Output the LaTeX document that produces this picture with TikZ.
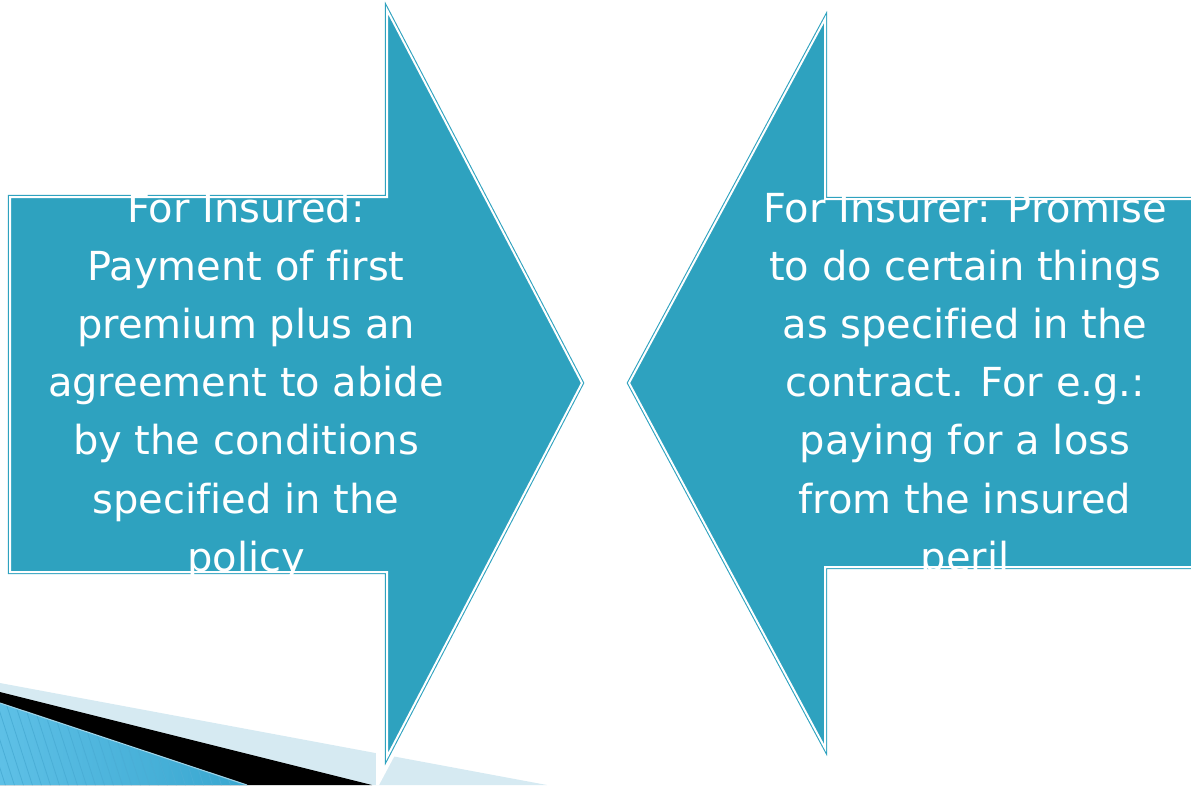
\documentclass[tikz,border=0pt]{standalone}
\usepackage{fontspec}
\setmainfont{DejaVu Sans}[Ligatures={NoCommon}]
\definecolor{arrowteal}{HTML}{2EA2BF}
\definecolor{bandpale}{HTML}{D6EAF2}
\definecolor{bandblueL}{HTML}{5EC0E6}
\definecolor{bandblueR}{HTML}{38A6CF}
\definecolor{bandstripe}{HTML}{4AAED6}
\definecolor{bandedge}{HTML}{9FD4E8}
\begin{document}
\begin{tikzpicture}[x=0.75pt,y=-0.75pt,
  arrowshape/.style={fill=arrowteal, draw=arrowteal, line width=0.8pt,
    double=white, double distance=1.5pt, line join=miter},
  linetext/.style={text=white, font=\fontsize{30}{36}\selectfont,
    inner sep=0pt, anchor=base}]
\useasboundingbox (0,0) rectangle (1191,785);
\clip (0,0) rectangle (1191,785);

% corner ribbon: pale band, black band and striped blue wedge
\fill[bandpale] (0,683) -- (547,785) -- (0,785) -- cycle;
\fill[white] (376,740) -- (376,785) -- (379,785) -- (395,755) -- (395,740) -- cycle;
\fill[black] (0,692) -- (372,785) -- (0,785) -- cycle;
\begin{scope}
  \clip (0,703) -- (247,785) -- (0,785) -- cycle;
  \shade[left color=bandblueL, right color=bandblueR] (0,700) rectangle (250,785);
  \foreach \s in {-40,-31,...,260}
    \draw[bandstripe, line width=0.6pt] (\s,700) -- (\s+28,787);
\end{scope}
\draw[bandedge, line width=0.8pt] (0,703) -- (247,785);

% left block arrow (insured)
\draw[arrowshape] (10,197) -- (387,197) -- (387,10) -- (582,383)
  -- (387,757) -- (387,572) -- (10,572) -- cycle;
% right block arrow (insurer)
\draw[arrowshape] (1200,199) -- (825,199) -- (825,19) -- (629,383)
  -- (825,748) -- (825,567) -- (1200,567);

% texts, one node per line
\foreach \t [count=\i] in {For Insured:, Payment of first, premium plus an,
    agreement to abide, by the conditions, specified in the, policy}
  \node[linetext] (insured\i) at (246,{222+58.2*(\i-1)}) {\t};
\foreach \t [count=\i] in {For Insurer: Promise, to do certain things,
    as specified in the, contract. For e.g.:, paying for a loss,
    from the insured, peril}
  \node[linetext] (insurer\i) at (965,{222+58.2*(\i-1)}) {\t};
\end{tikzpicture}
\end{document}
